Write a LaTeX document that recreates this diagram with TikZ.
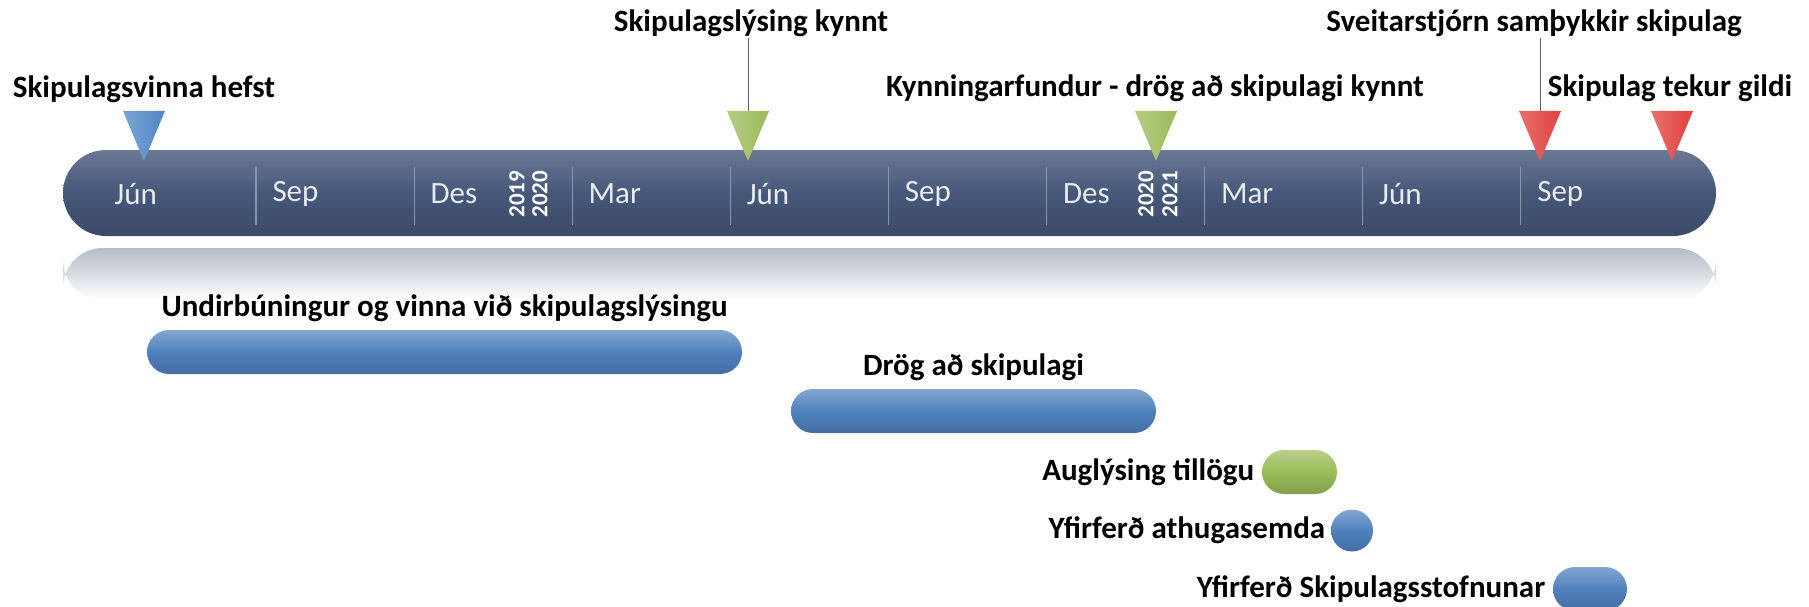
\documentclass[tikz,border=0pt]{standalone}
\usepackage{fontspec}
\setmainfont{Carlito}
\usepackage{tikz}
\usetikzlibrary{arrows.meta}
\usetikzlibrary{shapes.geometric,positioning}
\definecolor{axisblue}{HTML}{46577A}
\definecolor{sepgray}{HTML}{8A97AB}
\definecolor{reflgray}{HTML}{B4BCC8}
\definecolor{mblue}{HTML}{4F86C6}
\definecolor{mgreen}{HTML}{9BBB59}
\definecolor{mred}{HTML}{E0403C}
\definecolor{taskblue}{HTML}{4F81BD}

\begin{document}
\begin{tikzpicture}[x=0.5pt,y=-0.5pt]
  \tikzset{month/.style = {anchor=west,inner sep=0pt,text=white!88!axisblue,font=\fontsize{15.5}{17}\selectfont}}
  \tikzset{yearlbl/.style = {rotate=90,inner sep=0pt,text=white,font=\bfseries\fontsize{11.5}{12}\selectfont}}
  \tikzset{marker/.style = {shape=isosceles triangle,isosceles triangle stretches,rotate=-90,minimum width=21pt,minimum height=25pt,inner sep=0pt,anchor=apex}}
  \tikzset{event/.style = {inner sep=0.5pt,font=\bfseries\fontsize{15.5}{17}\selectfont}}
  \tikzset{task/.style = {shape=rectangle,rounded corners=11pt,minimum height=22pt,inner sep=0pt,top color=taskblue!70!white,bottom color=taskblue!85!black,middle color=taskblue}}
  \tikzset{lead/.style = {draw=black!60,line width=0.5pt}}

  \useasboundingbox (0,0) rectangle (1809,606);

  % time axis
  \shade[top color=reflgray,bottom color=white,rounded corners=20pt] (63,248) rectangle (1716,300);
  \node[shape=rectangle,rounded corners=21.5pt,minimum width=826.5pt,minimum height=43pt,
        top color=axisblue!80!white,bottom color=axisblue!85!black,middle color=axisblue] (axis) at (889.5,193) {};
  \foreach \k in {0,...,8}
    \draw[sepgray,line width=0.6pt] ({256+158.1*\k},167) -- ++(0,58);
  \foreach \mo [count=\i from 0] in {Jún,Sep,Des,Mar,Jún,Sep,Des,Mar,Jún,Sep}
    \node[month] (mo\i) at ({114+158.1*\i},194) {\mo};
  \node[yearlbl] (ya) at (517,194) {2019};
  \node[yearlbl] (yb) at (540,194) {2020};
  \node[yearlbl] (yc) at (1146,194) {2020};
  \node[yearlbl] (yd) at (1170,194) {2021};

  % milestones
  \node[marker,left color=mblue!75!white,right color=mblue] (m1) at (144,162) {};
  \node[marker,left color=mgreen!75!white,right color=mgreen] (m2) at (748,162) {};
  \node[marker,left color=mgreen!75!white,right color=mgreen] (m3) at (1156,162) {};
  \node[marker,left color=mred!75!white,right color=mred] (m4) at (1540,162) {};
  \node[marker,left color=mred!75!white,right color=mred] (m5) at (1672,162) {};

  \node[event] (l1) at (144,89) {Skipulagsvinna hefst};
  \node[event] (l2) at (751,23) {Skipulagslýsing kynnt};
  \node[event] (l3) at (1155,88) {Kynningarfundur - drög að skipulagi kynnt};
  \node[event] (l4) at (1534,23) {Sveitarstjórn samþykkir skipulag};
  \node[event] (l5) at (1670,88) {Skipulag tekur gildi};

  \foreach \from/\to in {l2/m2, l4/m4}
    \draw[lead] (\to.west |- \from.south) -- (\to.west);

  % tasks
  \node[task,minimum width=297.5pt] (b1) at (444.5,352) {};
  \node[task,minimum width=182.5pt] (b2) at (973.5,411) {};
  \node[task,minimum width=37.5pt,top color=mgreen!70!white,bottom color=mgreen!85!black,middle color=mgreen] (b3) at (1299.5,472) {};
  \node[task,minimum width=21pt,minimum height=21pt,rounded corners=10.5pt] (b4) at (1352,530.5) {};
  \node[task,minimum width=37pt] (b5) at (1590,589) {};

  \node[event,above=3pt of b1] (t1) {Undirbúningur og vinna við skipulagslýsingu};
  \node[event,above=3pt of b2] (t2) {Drög að skipulagi};
  \node[event,left=3pt of b3] (t3) {Auglýsing tillögu};
  \node[event,left=2pt of b4] (t4) {Yfirferð athugasemda};
  \node[event,left=3pt of b5] (t5) {Yfirferð Skipulagsstofnunar};
\end{tikzpicture}
\end{document}
